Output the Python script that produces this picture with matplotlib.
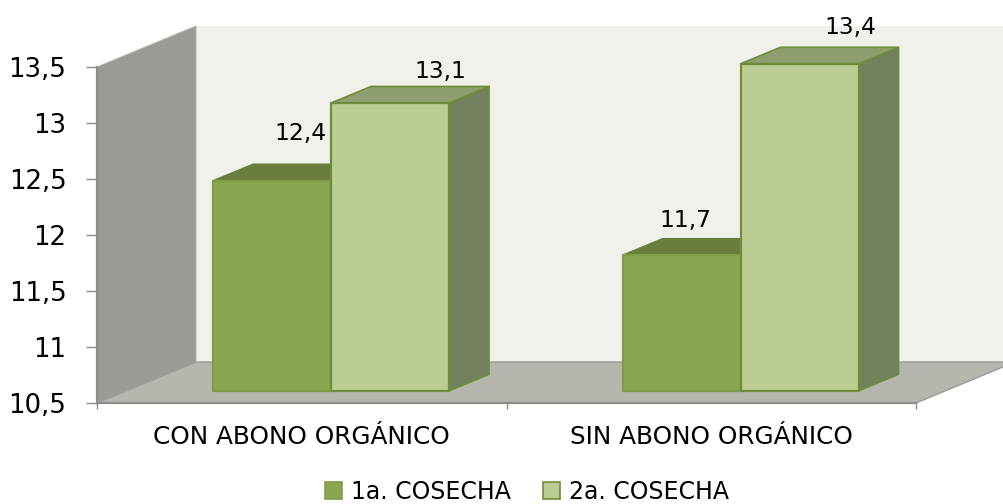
import matplotlib
matplotlib.use("Agg")
import matplotlib.pyplot as plt
from matplotlib.patches import Polygon, Patch

# DATA
categories = ["CON ABONO ORGÁNICO", "SIN ABONO ORGÁNICO"]
cosecha_1 = [12.375, 11.71]
cosecha_2 = [13.07, 13.42]
series_names = ["1a. COSECHA", "2a. COSECHA"]
y_ticks = [10.5, 11, 11.5, 12, 12.5, 13, 13.5]
y_labels = ["10,5", "11", "11,5", "12", "12,5", "13", "13,5"]

# label placement, pixels from the middle of the bar's top edge
offsets_1 = [(28, 47), (3, 35)]
offsets_2 = [(50, 31), (50, 36)]

plt.rcParams["font.family"] = ["DejaVu Sans"]

W, H = 1004, 504
fig = plt.figure(figsize=(W / 100, H / 100), dpi=100)
ax = fig.add_axes([97 / W, (H - 403) / H, (916 - 97) / W, (403 - 67) / H])
ax.set_xlim(-0.5, 1.5)
ax.set_ylim(10.5, 13.5)
ax.patch.set_visible(False)

# oblique depth of the box, in data units
DX = 99 / 409.5
DY = 41 / 112
GREY = "#9b9b9b"


def face(pts, color, edge="none", lw=0, z=1):
    ax.add_patch(Polygon(pts, closed=True, facecolor=color, edgecolor=edge,
                         linewidth=lw, clip_on=False, zorder=z, joinstyle="round"))


def box3d(x0, x1, value, front, top, side, edge, top_edge, z):
    d0x, d0y = 0.3 * DX, 0.3 * DY
    d1x, d1y = 0.7 * DX, 0.7 * DY
    yb = 10.5
    fl, fr = x0 + d0x, x1 + d0x
    bl, br = x0 + d1x, x1 + d1x
    by0 = yb + d0y
    ty0 = value + d0y
    ty1 = value + d1y
    face([(fr, by0), (br, yb + d1y), (br, ty1), (fr, ty0)], side, top_edge, 1.2, z)
    face([(fl, ty0), (bl, ty1), (br, ty1), (fr, ty0)], top, top_edge, 1.2, z)
    face([(fl, by0), (fr, by0), (fr, ty0), (fl, ty0)], front, edge, 1.6, z + 0.1)


# walls and floor
face([(-0.5 + DX, 10.5 + DY), (1.5 + DX, 10.5 + DY), (1.5 + DX, 13.5 + DY), (-0.5 + DX, 13.5 + DY)], "#eff1ea", z=1)
face([(-0.5, 10.5), (-0.5 + DX, 10.5 + DY), (-0.5 + DX, 13.5 + DY), (-0.5, 13.5)], "#999b95", "#b4b4b0", 0.8, z=1.2)
face([(-0.5, 10.5), (1.5, 10.5), (1.5 + DX, 10.5 + DY), (-0.5 + DX, 10.5 + DY)], "#b5b7af", GREY, 1.0, z=1.3)

# bars
bar_w = 118 / 409.5
for i in range(len(categories)):
    box3d(i - bar_w, i, cosecha_1[i], "#8aa650", "#6b7d3c", "#6b7d3c", "#7f9c48", "#6b7d3c", 2 + i)
    box3d(i, i + bar_w, cosecha_2[i], "#bbcd93", "#8e9e6e", "#73825c", "#6f8d38", "#6f8d38", 2.5 + i)

# data labels
for i in range(len(categories)):
    for vals, offs, xc in [(cosecha_1, offsets_1, i - bar_w / 2), (cosecha_2, offsets_2, i + bar_w / 2)]:
        txt = ("%.1f" % vals[i]).replace(".", ",")
        ax.annotate(txt, (xc + 0.3 * DX, vals[i] + 0.3 * DY), xytext=offs[i],
                    textcoords="offset pixels", ha="center", va="center",
                    fontsize=16.8, color="black", zorder=10, annotation_clip=False)

# axes
for s in ["top", "right"]:
    ax.spines[s].set_visible(False)
for s in ["left", "bottom"]:
    ax.spines[s].set_color("#8c8c8c")
    ax.spines[s].set_linewidth(1.6)
    ax.spines[s].set_zorder(5)

ax.set_yticks(y_ticks)
ax.set_yticklabels(y_labels, fontsize=18.7)
ax.tick_params(axis="y", length=8, width=1.0, color="#8c8c8c", pad=14)
ax.set_xticks([-0.5, 0.5, 1.5])
ax.set_xticklabels([])
ax.tick_params(axis="x", which="major", length=4, width=1.0, color="#8c8c8c")
ax.set_xticks(range(len(categories)), minor=True)
ax.set_xticklabels(categories, minor=True, fontsize=17.8)
ax.tick_params(axis="x", which="minor", length=0, pad=15.5)

handles = [Patch(facecolor="#8aa650", edgecolor="#7f9c48", linewidth=1.2, label=series_names[0]),
           Patch(facecolor="#bbcd93", edgecolor="#6f8d38", linewidth=1.2, label=series_names[1])]
fig.legend(handles=handles, loc="center", bbox_to_anchor=(527 / W, (H - 492) / H), ncol=2,
           frameon=False, fontsize=17, handlelength=0.72, handleheight=0.72,
           handletextpad=0.38, columnspacing=1.4, borderpad=0)

fig.savefig("out.png", dpi=100)
